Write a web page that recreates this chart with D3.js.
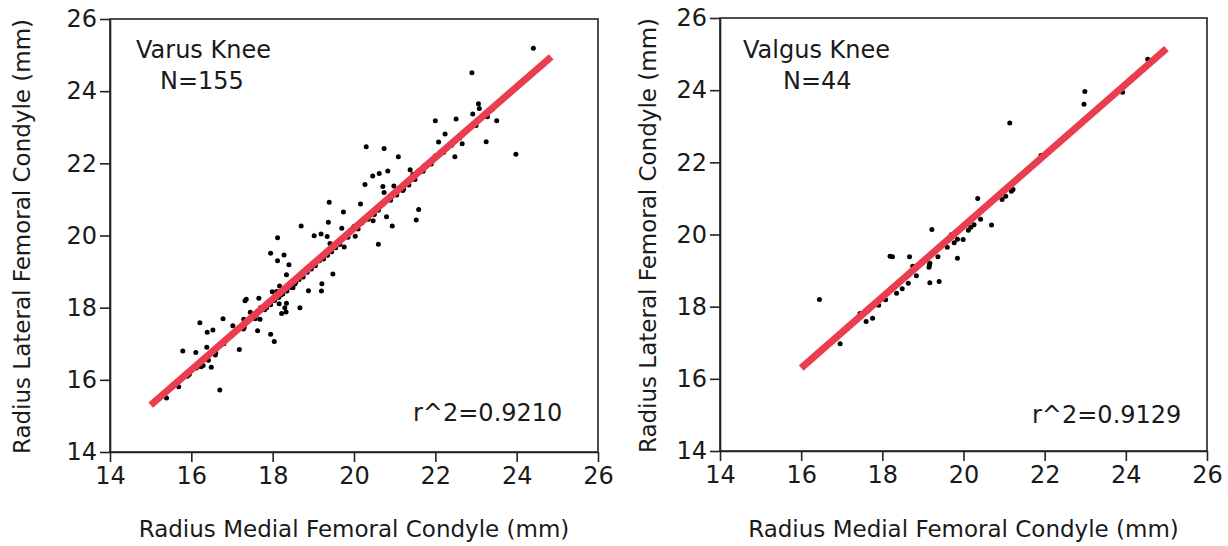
<!DOCTYPE html>
<html>
<head>
<meta charset="utf-8">
<script src="https://cdn.jsdelivr.net/npm/d3@7"></script>
<style>
  body { margin: 0; background: #fff; }
  text { font-family: "DejaVu Sans", sans-serif; }
</style>
</head>
<body>
<svg id="chart" width="1228" height="546"></svg>
<script>
// axis ticks, same for both panels
var ticks = [14, 16, 18, 20, 22, 24, 26];

// varus knee: [medial radius, lateral radius] in mm
var varusPoints = [
  [15.39,15.50],[15.69,15.81],[16.70,15.72],[15.95,16.15],[15.79,16.80],[16.11,16.76],[16.38,16.90],
  [16.59,16.69],[16.42,16.54],[16.29,16.40],[16.24,16.36],[16.12,16.33],[16.49,16.35],[17.18,16.84],
  [16.21,17.58],[16.78,17.69],[16.53,17.38],[16.39,17.32],[17.02,17.50],[17.28,17.41],[17.29,17.68],
  [17.57,17.69],[17.69,17.68],[17.63,17.36],[17.95,17.26],[18.04,17.06],[17.45,17.87],[17.80,17.94],
  [17.66,18.26],[17.32,18.19],[17.35,18.23],[17.88,18.15],[18.16,18.11],[18.34,18.12],[18.30,18.00],
  [18.33,17.88],[18.22,17.84],[18.67,18.00],[17.99,18.44],[18.17,18.60],[18.57,18.71],[18.34,18.91],
  [18.40,19.19],[18.12,19.30],[18.28,19.46],[17.95,19.51],[18.12,19.94],[19.21,18.66],[18.88,18.47],
  [19.20,18.46],[19.48,18.93],[18.70,20.26],[19.37,20.37],[19.19,20.04],[19.02,19.99],[19.70,20.20],
  [19.34,19.97],[19.39,20.92],[19.74,20.65],[20.03,19.98],[19.76,19.68],[19.41,19.78],[20.60,19.76],
  [20.16,20.87],[20.47,20.41],[20.94,20.26],[21.53,20.43],[21.59,20.72],[20.80,20.52],[20.27,21.41],
  [20.71,21.36],[20.98,21.37],[20.74,21.19],[21.05,21.26],[21.22,21.28],[20.46,21.65],[20.62,21.72],
  [20.83,21.79],[21.38,21.82],[20.30,22.46],[20.74,22.41],[21.09,22.18],[22.00,23.18],[22.51,23.23],
  [22.24,22.81],[22.08,22.59],[22.48,22.18],[22.66,22.54],[23.25,22.60],[23.98,22.25],[22.90,24.51],
  [24.41,25.19],[23.06,23.65],[23.08,23.52],[22.92,23.37],[23.28,23.29],[23.51,23.18],[19.00,19.16],
  // the packed streak along the fit line
  [17.85,18.00],[17.95,18.08],[18.05,18.20],[18.15,18.28],[18.25,18.38],[18.35,18.46],[18.45,18.56],
  [18.55,18.66],[18.65,18.78],[18.75,18.85],[18.85,18.98],[18.95,19.07],[19.05,19.16],[19.35,19.45],
  [19.45,19.55],[19.55,19.66],[19.65,19.75],[19.85,19.95],[20.10,20.18],[20.35,20.45],[20.50,20.58],
  [20.60,20.70],[20.90,20.98],[21.05,21.12],[21.20,21.25],[21.35,21.40],[21.50,21.55],[21.70,21.78],
  [21.90,21.98],[22.20,22.30],[22.60,22.70],[23.00,23.05],[16.40,16.60],[16.80,17.00],[17.30,17.45],
  [17.60,17.80],[15.90,16.10],[19.15,19.30],[19.25,19.35],[18.10,18.45],[18.50,18.55],[20.00,20.25],
  [20.20,20.35],[21.10,21.30],[21.60,21.80],[22.40,22.50],[19.80,20.00],[17.70,18.00],[18.20,18.35],
  [20.70,20.85],[21.45,21.70],[16.60,16.75],[22.00,22.20],[23.40,23.50],[19.70,19.90],[21.73,21.93]
];
var varusFit = [[15, 15.3], [24.85, 24.95]];

// valgus knee
var valgusPoints = [
  [16.45,18.20],[16.96,16.97],[17.45,17.81],[17.60,17.59],[17.76,17.68],[17.91,18.04],[18.08,18.19],
  [18.19,19.40],[18.25,19.38],[18.35,18.37],[18.49,18.50],[18.64,18.65],[18.84,18.86],[18.75,19.12],
  [18.67,19.38],[19.17,18.66],[19.40,18.70],[19.16,19.15],[19.15,19.09],[19.17,19.20],[19.37,19.38],
  [19.22,20.14],[19.85,19.34],[19.77,19.77],[19.85,19.87],[19.99,19.86],[19.70,19.99],[20.12,20.12],
  [20.18,20.20],[20.26,20.27],[20.42,20.42],[20.69,20.26],[20.35,21.00],[20.95,20.97],[21.04,21.06],
  [21.18,21.20],[21.22,21.25],[21.14,23.09],[22.99,23.96],[22.97,23.61],[23.92,23.94],[24.54,24.86],
  [21.91,22.19],[19.60,19.65]
];
var valgusFit = [[16, 16.3], [25, 25.15]];

var panels = [
  {left: 110, right: 598, top: 19, bottom: 452, points: varusPoints, fit: varusFit,
   title: "Varus Knee", n: "N=155", r2: "r^2=0.9210", tx: 26, nx: 50, rx: 303, ry: 421, ylab: 22},
  {left: 720, right: 1207, top: 18, bottom: 451, points: valgusPoints, fit: valgusFit,
   title: "Valgus Knee", n: "N=44", r2: "r^2=0.9129", tx: 23, nx: 63, rx: 312, ry: 423, ylab: 648}
];

var svg = d3.select("#chart");
var fs = "24px", labFs = "23px";

panels.forEach(function(p) {
  var x = d3.scaleLinear().domain([14, 26]).range([p.left, p.right]);
  var y = d3.scaleLinear().domain([14, 26]).range([p.bottom, p.top]);
  var g = svg.append("g");

  // frame
  g.append("rect")
    .attr("x", p.left).attr("y", p.top)
    .attr("width", p.right - p.left).attr("height", p.bottom - p.top)
    .attr("fill", "none").attr("stroke", "#222").attr("stroke-width", 1.6);

  var xa = g.append("g")
    .attr("transform", "translate(0," + p.bottom + ")")
    .call(d3.axisBottom(x).tickValues(ticks).tickSize(10).tickSizeOuter(0).tickPadding(5));
  var ya = g.append("g")
    .attr("transform", "translate(" + p.left + ",0)")
    .call(d3.axisLeft(y).tickValues(ticks).tickSize(10).tickSizeOuter(0).tickPadding(3));
  [xa, ya].forEach(function(a) {
    a.selectAll("text").style("font-size", fs).attr("fill", "#1a1a1a")
      .style("font-family", "DejaVu Sans, sans-serif");
    a.selectAll("line, path").attr("stroke", "#222").attr("stroke-width", 1.6);
  });

  // axis titles
  g.append("text")
    .attr("x", (p.left + p.right) / 2).attr("y", 537)
    .attr("text-anchor", "middle").style("font-size", labFs).attr("fill", "#1a1a1a")
    .text("Radius Medial Femoral Condyle (mm)");
  g.append("text")
    .attr("transform", "translate(" + (p.ylab + 8) + "," + ((p.top + p.bottom) / 2 + 1) + ") rotate(-90)")
    .attr("text-anchor", "middle").style("font-size", labFs).attr("fill", "#1a1a1a")
    .text("Radius Lateral Femoral Condyle (mm)");

  // points
  g.selectAll("circle")
    .data(p.points)
    .enter()
    .append("circle")
    .attr("cx", function(d) { return x(d[0]); })
    .attr("cy", function(d) { return y(d[1]); })
    .attr("r", 2.5)
    .attr("fill", "#000");

  // fit line
  g.append("line")
    .attr("x1", x(p.fit[0][0])).attr("y1", y(p.fit[0][1]))
    .attr("x2", x(p.fit[1][0])).attr("y2", y(p.fit[1][1]))
    .attr("stroke", "#ea3d50").attr("stroke-width", 7);

  // annotations
  g.append("text").attr("x", p.left + p.tx).attr("y", 58)
    .style("font-size", fs).attr("fill", "#1a1a1a").text(p.title);
  g.append("text").attr("x", p.left + p.nx).attr("y", 89)
    .style("font-size", fs).attr("fill", "#1a1a1a").text(p.n);
  g.append("text").attr("x", p.left + p.rx).attr("y", p.ry)
    .style("font-size", fs).attr("fill", "#1a1a1a").text(p.r2);
});
</script>
</body>
</html>
